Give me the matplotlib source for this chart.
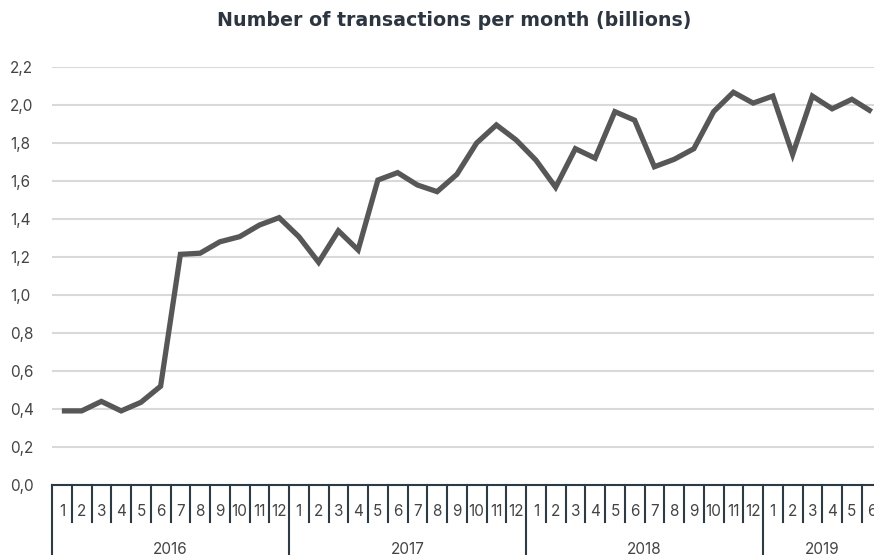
import matplotlib
matplotlib.use("Agg")
import matplotlib.pyplot as plt
from matplotlib.transforms import blended_transform_factory
from matplotlib.ticker import FuncFormatter

years = [2016, 2017, 2018, 2019]
months_per_year = [12, 12, 12, 6]
month_labels = [str(m) for n in months_per_year for m in range(1, n + 1)]
values = [
    0.39, 0.39, 0.44, 0.39, 0.435, 0.52, 1.214, 1.22, 1.28, 1.307, 1.368, 1.407,
    1.307, 1.172, 1.338, 1.237, 1.605, 1.644, 1.579, 1.544, 1.635, 1.80, 1.895, 1.816,
    1.71, 1.567, 1.77, 1.72, 1.965, 1.92, 1.675, 1.714, 1.77, 1.965, 2.067, 2.01,
    2.047, 1.74, 2.047, 1.98, 2.03, 1.965,
]
title = "Number of transactions per month (billions)"

W, H = 874, 555
fig = plt.figure(figsize=(W / 100, H / 100), dpi=100)
left_px, right_px, bottom_px, top_px = 52, 874, 485, 67
ax = fig.add_axes([left_px / W, 1 - bottom_px / H, (right_px - left_px) / W, (bottom_px - top_px) / H])

step_px = 19.75
n = len(values)
xs = [i + 0.5 for i in range(n)]
ax.set_xlim(0, (right_px - left_px) / step_px)
ax.set_ylim(0, 2.2)

line_col = "#575757"
dark = "#2e3a44"
text_col = "#444444"
fam = ["Inter", "DejaVu Sans"]
tick_font = dict(family=fam, fontweight="normal")
fs = 11

ax.plot(xs, values, color=line_col, lw=3.8, solid_joinstyle="miter", solid_capstyle="butt", zorder=3, clip_on=False)

yt = [round(0.2 * k, 1) for k in range(12)]
ax.set_yticks(yt)
ax.yaxis.set_major_formatter(FuncFormatter(lambda v, p: f"{v:.1f}".replace(".", ",")))
for y in yt[1:]:
    ax.axhline(y, color="#d9d9d9", lw=1.5, zorder=1)
ax.tick_params(axis="y", length=0, pad=42 * 0.72, labelsize=fs, labelcolor=text_col)
for lab in ax.get_yticklabels():
    lab.set_fontfamily(fam)
    lab.set_horizontalalignment("left")

ax.set_xticks([])
for s in ["top", "right", "left"]:
    ax.spines[s].set_visible(False)
ax.spines["bottom"].set_color(dark)
ax.spines["bottom"].set_linewidth(1.5)

tr = blended_transform_factory(ax.transData, ax.transAxes)
axh = bottom_px - top_px
month_depth = -37 / axh
year_depth = -(H - bottom_px) / axh
month_y = -27 / axh
year_y = -64 / axh

for i, lab in enumerate(month_labels):
    ax.text(i + 0.5, month_y, lab, transform=tr, ha="center", va="center",
            fontsize=fs, color=text_col, clip_on=False, **tick_font)

pos = 0
bounds = [0]
for y, m in zip(years, months_per_year):
    ax.text(pos + m / 2, year_y, str(y), transform=tr, ha="center", va="center",
            fontsize=fs, color=text_col, clip_on=False, **tick_font)
    pos += m
    bounds.append(pos)

for k in range(n + 1):
    depth = year_depth if k in bounds else month_depth
    ax.plot([k, k], [0, depth], transform=tr, color=dark, lw=1.5, clip_on=False, zorder=2)

fig.text(454 / W, 1 - 21 / H, title, ha="center", va="center", fontsize=13.7,
         fontweight="heavy", color="#2d3640", family=["DejaVu Sans"])

fig.savefig("out.png", dpi=100, facecolor="white")
